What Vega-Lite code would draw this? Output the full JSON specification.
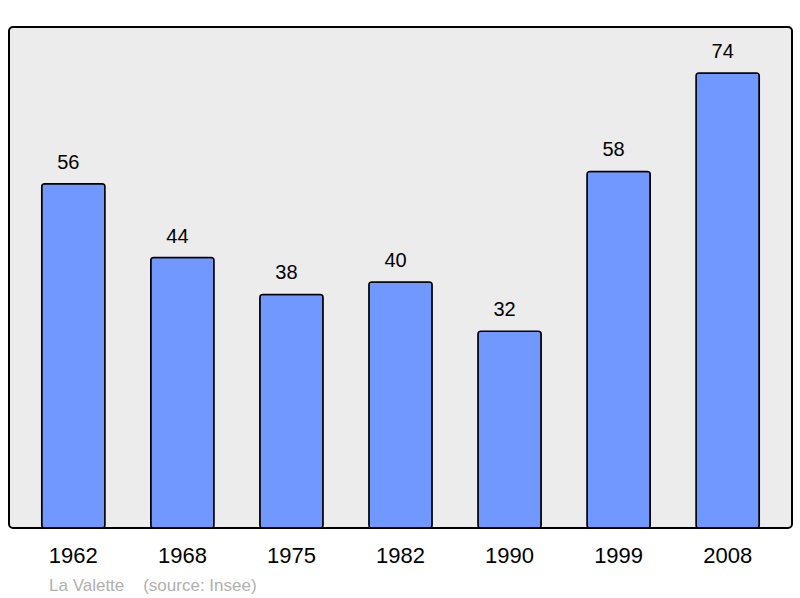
{
  "$schema": "https://vega.github.io/schema/vega-lite/v6.json",
  "width": 783,
  "height": 501,
  "autosize": {"type": "none"},
  "padding": {"left": 9, "top": 27, "right": 8, "bottom": 70},
  "background": "white",
  "title": {
    "text": "La Valette\u00a0\u00a0\u00a0\u00a0(source: Insee)",
    "orient": "bottom",
    "anchor": "start",
    "dx": 40,
    "offset": 12,
    "font": "Liberation Sans",
    "fontSize": 17,
    "fontWeight": "normal",
    "color": "#b0b0b0"
  },
  "data": {
    "values": [
      {"year": "1962", "pop": 56},
      {"year": "1968", "pop": 44},
      {"year": "1975", "pop": 38},
      {"year": "1982", "pop": 40},
      {"year": "1990", "pop": 32},
      {"year": "1999", "pop": 58},
      {"year": "2008", "pop": 74}
    ]
  },
  "encoding": {
    "x": {
      "field": "year",
      "type": "ordinal",
      "scale": {"paddingInner": 0.42, "paddingOuter": 0.3},
      "axis": {"title": null, "labelAngle": 0, "domain": false, "ticks": false, "labelPadding": 17, "labelFontSize": 22, "labelFont": "Liberation Sans", "labelColor": "black"}
    },
    "y": {
      "field": "pop",
      "type": "quantitative",
      "scale": {"domain": [0, 81.5], "nice": false},
      "axis": null
    }
  },
  "layer": [
    {
      "mark": {"type": "bar", "color": "#7098ff", "stroke": "black", "strokeWidth": 1.5, "cornerRadius": 3}
    },
    {
      "mark": {"type": "text", "dx": -5, "dy": -21, "baseline": "middle", "fontSize": 20, "font": "Liberation Sans", "color": "black"},
      "encoding": {"text": {"field": "pop", "type": "quantitative"}}
    }
  ],
  "config": {
    "view": {"fill": "#ececec", "stroke": "black", "strokeWidth": 2, "cornerRadius": 4}
  }
}
